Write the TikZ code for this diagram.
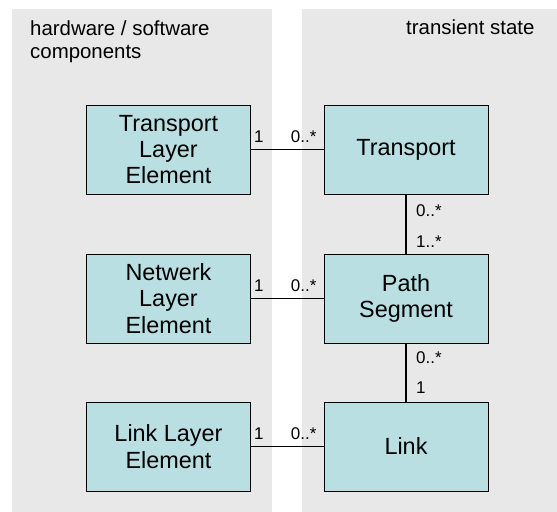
\documentclass[tikz,border=0pt]{standalone}
\usepackage{fontspec}
\setmainfont{Liberation Sans}
\usetikzlibrary{calc}
\definecolor{panelgray}{HTML}{E8E8E8}
\definecolor{boxfill}{HTML}{BADFE2}
\tikzset{
  panel/.style={fill=panelgray, draw=none},
  umlbox/.style={draw=black, line width=0.9bp, fill=boxfill,
    minimum width=164bp, minimum height=89bp, inner sep=0pt,
    align=center, font=\fontsize{23.5}{26.5}\selectfont},
  assoc/.style={draw=black, line width=1.8bp},
  mult/.style={inner sep=0pt, font=\fontsize{17}{19}\selectfont},
  title/.style={inner sep=0pt, align=left, font=\fontsize{20.5}{23}\selectfont}
}
\begin{document}
\begin{tikzpicture}[x=1bp, y=-1bp]
  \useasboundingbox (0,0) rectangle (557,512);
  % background panels
  \path[panel] (12,9) rectangle (272,512);
  \path[panel] (302,9) rectangle (557,512);
  \node[title, anchor=north west] (hwtitle) at (30,21) {hardware / software\\components};
  \node[title, anchor=base west] (tstitle) at (406,35) {transient state};

  % hardware / software components
  \node[umlbox] (tle) at (168.5,149.5) {Transport\\Layer\\Element};
  \node[umlbox] (nle) at (168.5,298.5) {Netwerk\\Layer\\Element};
  \node[umlbox] (lle) at (168.5,446.5) {Link Layer\\Element};

  % transient state
  \node[umlbox] (tr) at (406,149.5) {Transport};
  \node[umlbox] (ps) at (406,298.5) {Path\\Segment};
  \node[umlbox] (lk) at (406,446.5) {Link};

  % associations
  \draw[assoc] (tle) -- (tr);
  \draw[assoc] (nle) -- (ps);
  \draw[assoc] (lle) -- (lk);
  \draw[assoc] (tr) -- (ps);
  \draw[assoc] (ps) -- (lk);

  % multiplicities
  \node[mult, anchor=base west] (m1a) at ($(tle.east)+(3,-7)$) {1};
  \node[mult, anchor=base east] (m1b) at ($(tr.west)+(-7,-7)$) {0..*};
  \node[mult, anchor=base west] (m2a) at ($(nle.east)+(3,-7)$) {1};
  \node[mult, anchor=base east] (m2b) at ($(ps.west)+(-7,-7)$) {0..*};
  \node[mult, anchor=base west] (m3a) at ($(lle.east)+(3,-7)$) {1};
  \node[mult, anchor=base east] (m3b) at ($(lk.west)+(-7,-7)$) {0..*};
  \node[mult, anchor=base west] (m4a) at ($(tr.south)+(10,22)$) {0..*};
  \node[mult, anchor=base west] (m4b) at ($(ps.north)+(10,-6)$) {1..*};
  \node[mult, anchor=base west] (m5a) at ($(ps.south)+(10,20)$) {0..*};
  \node[mult, anchor=base west] (m5b) at ($(lk.north)+(10,-8)$) {1};
\end{tikzpicture}
\end{document}
